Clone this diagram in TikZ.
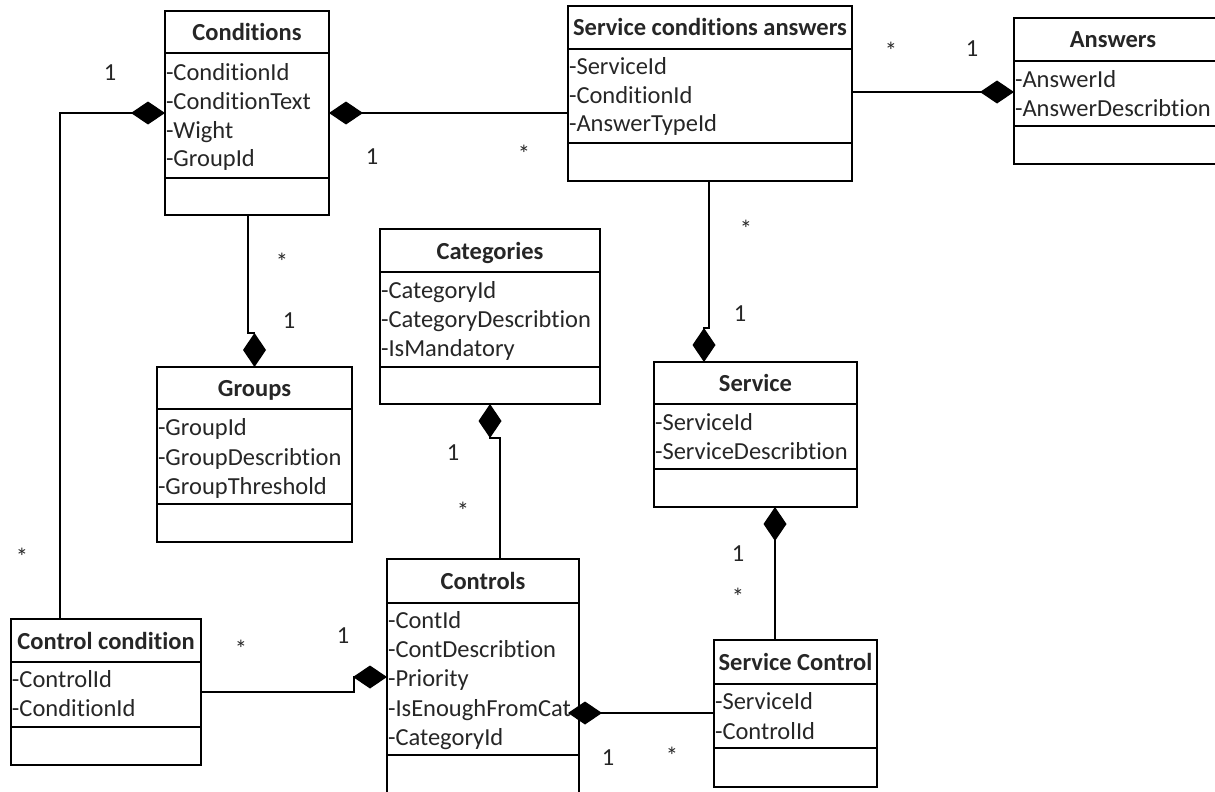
\documentclass[tikz,border=0pt]{standalone}
\usepackage{fontspec}
\setmainfont{Carlito}[Ligatures={NoCommon}]
\usetikzlibrary{arrows.meta,calc}
\tikzset{
  classbox/.style={draw, line width=1.5pt, inner sep=0pt, outer sep=0pt, rectangle},
  classline/.style={line width=1.5pt},
  txt/.style={inner sep=0pt, outer sep=0pt, text height=17pt, text depth=0pt, font=\fontsize{24.5}{28}\selectfont, text=black!85},
  titletext/.style={txt, font=\fontsize{24.5}{28}\selectfont\bfseries},
  attr/.style={txt, anchor=west},
  mult/.style={txt},
  star/.style={txt},
  comp/.style={line width=1.5pt, -{Diamond[length=34pt,width=23pt]}},
}
\newcommand\umlclass[8]{%
  \node[classbox, minimum width={(#4-#2)*1pt}, minimum height={(#5-#3)*1pt}] (#1) at ({(#2+#4)/2},{(#3+#5)/2}) {};
  \draw[classline] (#1.west |- 0,#6) -- (#1.east |- 0,#6);
  \draw[classline] (#1.west |- 0,#7) -- (#1.east |- 0,#7);
  \node[titletext] (#1-title) at ({(#2+#4)/2},{(#3+#6)/2}) {#8};
}
\begin{document}
\begin{tikzpicture}[x=1pt,y=-1pt]
\useasboundingbox (0,0) rectangle (1215,792);

% Conditions
\umlclass{cond}{165}{11}{329}{215}{53}{178}{Conditions}
\node[attr] (cond-a1) at (166,72) {-ConditionId};
\node[attr] (cond-a2) at (166,101) {-ConditionText};
\node[attr] (cond-a3) at (166,130) {-Wight};
\node[attr] (cond-a4) at (166,158) {-GroupId};

% Service conditions answers
\umlclass{sca}{568}{6}{852}{181}{49}{143}{Service conditions answers}
\node[attr] (sca-a1) at (569,66) {-ServiceId};
\node[attr] (sca-a2) at (569,95) {-ConditionId};
\node[attr] (sca-a3) at (569,123) {-AnswerTypeId};

% Answers
\umlclass{ans}{1014}{18}{1226}{164}{61}{126}{}
\node[titletext] (ans-title) at (1113,39) {Answers};
\node[attr] (ans-a1) at (1015,79) {-AnswerId};
\node[attr] (ans-a2) at (1015,108) {-AnswerDescribtion};

% Categories
\umlclass{cat}{380}{229}{600}{404}{272}{367}{Categories}
\node[attr] (cat-a1) at (381,290) {-CategoryId};
\node[attr] (cat-a2) at (381,319) {-CategoryDescribtion};
\node[attr] (cat-a3) at (381,348) {-IsMandatory};

% Groups
\umlclass{grp}{157}{367}{352}{542}{409}{504}{Groups}
\node[attr] (grp-a1) at (158,427) {-GroupId};
\node[attr] (grp-a2) at (158,457) {-GroupDescribtion};
\node[attr] (grp-a3) at (158,486) {-GroupThreshold};

% Service
\umlclass{srv}{654}{362}{857}{507}{404}{469}{Service}
\node[attr] (srv-a1) at (655,422) {-ServiceId};
\node[attr] (srv-a2) at (655,451) {-ServiceDescribtion};

% Controls
\umlclass{ctl}{387}{559}{579}{802}{603}{755}{Controls}
\node[attr] (ctl-a1) at (388,620) {-ContId};
\node[attr] (ctl-a2) at (388,649) {-ContDescribtion};
\node[attr] (ctl-a3) at (388,678) {-Priority};
\node[attr] (ctl-a4) at (388,708) {-IsEnoughFromCat};
\node[attr] (ctl-a5) at (388,737) {-CategoryId};

% Service Control
\umlclass{sc}{714}{640}{877}{787}{684}{748}{Service Control}
\node[attr] (sc-a1) at (715,701) {-ServiceId};
\node[attr] (sc-a2) at (715,731) {-ControlId};

% Control condition
\umlclass{cc}{11}{619}{201}{765}{662}{727}{Control condition}
\node[attr] (cc-a1) at (12,679) {-ControlId};
\node[attr] (cc-a2) at (12,708) {-ConditionId};

% Connectors
\draw[comp] (sca.west |- 0,113) -- (cond.east |- 0,113);
\draw[comp] (cc.north -| 60,0) -- (60,113) -- (cond.west |- 0,113);
\draw[comp] (cond.south -| 248,0) -- (248,333) -- (grp.north |- 0,333) -- (grp.north);
\draw[comp] (sca.east |- 0,92) -- (ans.west |- 0,92);
\draw[comp] (sca.south -| 709,0) -- (709,328) -- (704,328) -- (srv.north -| 704,0);
\draw[comp] (ctl.north -| 500,0) -- (500,438) -- (cat.south |- 0,438) -- (cat.south);
\draw[comp] (sc.north -| 775,0) -- (srv.south -| 775,0);
\draw[comp] (cc.east |- 0,692) -- (354,692) -- (354,677) -- (ctl.west |- 0,677);
\draw[comp] (sc.west |- 0,713) -- ($(ctl.east |- 0,713)+(-11,0)$);

% Multiplicities
\node[mult] (m1) at (110,72) {1};
\node[mult] (m2) at (372,156) {1};
\node[star] (m3) at (524,154) {*};
\node[star] (m4) at (891,51) {*};
\node[mult] (m5) at (972,48) {1};
\node[star] (m6) at (746,229) {*};
\node[mult] (m7) at (740,313) {1};
\node[star] (m8) at (282,262) {*};
\node[mult] (m9) at (289,320) {1};
\node[mult] (m10) at (453,452) {1};
\node[star] (m11) at (463,511) {*};
\node[mult] (m12) at (738,553) {1};
\node[star] (m13) at (738,597) {*};
\node[star] (m14) at (22,557) {*};
\node[star] (m15) at (241,649) {*};
\node[mult] (m16) at (343,635) {1};
\node[mult] (m17) at (608,757) {1};
\node[star] (m18) at (672,756) {*};
\end{tikzpicture}
\end{document}
